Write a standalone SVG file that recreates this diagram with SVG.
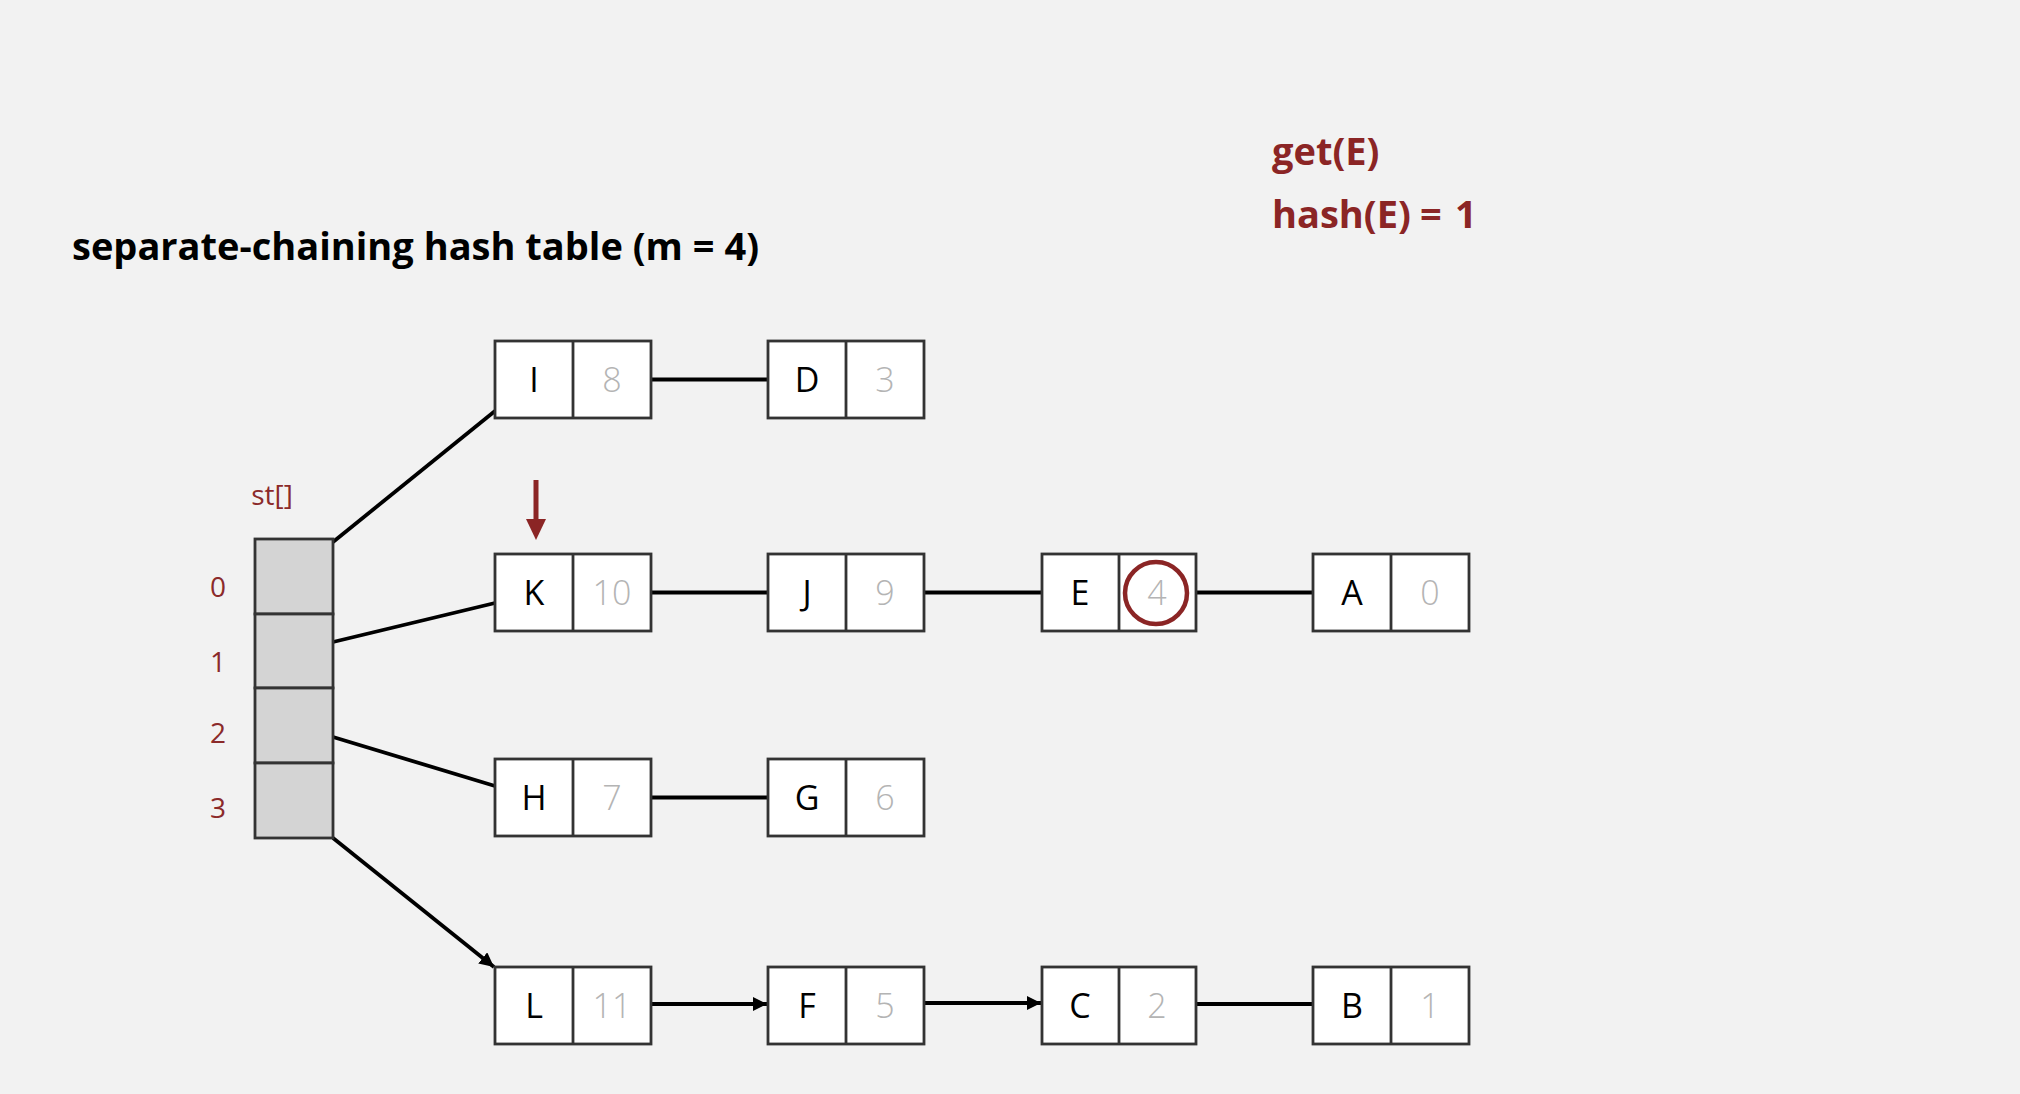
<svg xmlns="http://www.w3.org/2000/svg" width="2020" height="1094" viewBox="0 0 2020 1094">
<style>
.bg{fill:#f2f2f2}
.box{fill:#ffffff;stroke:#333333;stroke-width:2.8}
.div{stroke:#333333;stroke-width:2.8}
.key{font-family:"Open Sans","Noto Sans",sans-serif;font-size:34px;fill:#000000;text-anchor:middle}
.val{font-family:"Open Sans","Noto Sans",sans-serif;font-size:34px;font-weight:300;fill:#b4b4b4;text-anchor:middle}
.edge{stroke:#000000;stroke-width:3.8;fill:none}
.cell{fill:#d4d4d4;stroke:#333333;stroke-width:2.8}
.idx{font-family:"Open Sans","Noto Sans",sans-serif;font-size:28px;fill:#8b2a2a;text-anchor:middle}
.head{font-family:"Open Sans","Noto Sans",sans-serif;font-size:38px;font-weight:bold}
</style>
<defs>
<marker id="arr" viewBox="0 0 10 10" refX="10" refY="5" markerWidth="3.8" markerHeight="3.8" orient="auto" markerUnits="strokeWidth">
<path d="M0,0 L10,5 L0,10 z" fill="#000000"/>
</marker>
</defs>
<rect class="bg" x="0" y="0" width="2020" height="1094"/>
<text class="head" x="72" y="260" fill="#000000">separate-chaining hash table (m = 4)</text>
<text class="head" x="1272" y="165" fill="#8b2525">get(E)</text>
<text class="head" y="228" fill="#8b2525"><tspan x="1272">hash(E)</tspan><tspan x="1420">=</tspan><tspan x="1455">1</tspan></text>

<g id="connectors">
<line class="edge" x1="333" y1="542" x2="495" y2="411"/>
<line class="edge" x1="333" y1="642" x2="495" y2="603"/>
<line class="edge" x1="333" y1="737" x2="495" y2="786"/>
<line class="edge" x1="333" y1="838" x2="494" y2="967" marker-end="url(#arr)"/>
<line class="edge" x1="651" y1="379.5" x2="768" y2="379.5"/>
<line class="edge" x1="651" y1="592.5" x2="768" y2="592.5"/>
<line class="edge" x1="924" y1="592.5" x2="1042" y2="592.5"/>
<line class="edge" x1="1196" y1="592.5" x2="1313" y2="592.5"/>
<line class="edge" x1="651" y1="797.5" x2="768" y2="797.5"/>
<line class="edge" x1="651" y1="1004" x2="767" y2="1004" marker-end="url(#arr)"/>
<line class="edge" x1="924" y1="1003" x2="1041" y2="1003" marker-end="url(#arr)"/>
<line class="edge" x1="1196" y1="1004" x2="1313" y2="1004"/>
</g>

<g id="st">
<text class="idx" x="272" y="505">st[]</text>
<rect class="cell" x="255" y="539" width="78" height="75"/>
<rect class="cell" x="255" y="614" width="78" height="74"/>
<rect class="cell" x="255" y="688" width="78" height="75"/>
<rect class="cell" x="255" y="763" width="78" height="75"/>
<text class="idx" x="218" y="597">0</text>
<text class="idx" x="218" y="672">1</text>
<text class="idx" x="218" y="743">2</text>
<text class="idx" x="218" y="818">3</text>
</g>

<g id="node-I8"><rect class="box" x="495" y="341" width="156" height="77"/><line class="div" x1="573" y1="341" x2="573" y2="418"/><text class="key" x="534" y="392">I</text><text class="val" x="612" y="392">8</text></g>
<g id="node-D3"><rect class="box" x="768" y="341" width="156" height="77"/><line class="div" x1="846" y1="341" x2="846" y2="418"/><text class="key" x="807" y="392">D</text><text class="val" x="885" y="392">3</text></g>

<g id="node-K10"><rect class="box" x="495" y="554" width="156" height="77"/><line class="div" x1="573" y1="554" x2="573" y2="631"/><text class="key" x="534" y="605">K</text><text class="val" x="612" y="605">10</text></g>
<g id="node-J9"><rect class="box" x="768" y="554" width="156" height="77"/><line class="div" x1="846" y1="554" x2="846" y2="631"/><text class="key" x="807" y="605">J</text><text class="val" x="885" y="605">9</text></g>
<g id="node-E4"><rect class="box" x="1042" y="554" width="154" height="77"/><line class="div" x1="1119" y1="554" x2="1119" y2="631"/><text class="key" x="1080" y="605">E</text><text class="val" x="1157" y="605">4</text><circle cx="1156" cy="593" r="31" fill="none" stroke="#8b2525" stroke-width="4.5"/></g>
<g id="node-A0"><rect class="box" x="1313" y="554" width="156" height="77"/><line class="div" x1="1391" y1="554" x2="1391" y2="631"/><text class="key" x="1352" y="605">A</text><text class="val" x="1430" y="605">0</text></g>

<g id="node-H7"><rect class="box" x="495" y="759" width="156" height="77"/><line class="div" x1="573" y1="759" x2="573" y2="836"/><text class="key" x="534" y="810">H</text><text class="val" x="612" y="810">7</text></g>
<g id="node-G6"><rect class="box" x="768" y="759" width="156" height="77"/><line class="div" x1="846" y1="759" x2="846" y2="836"/><text class="key" x="807" y="810">G</text><text class="val" x="885" y="810">6</text></g>

<g id="node-L11"><rect class="box" x="495" y="967" width="156" height="77"/><line class="div" x1="573" y1="967" x2="573" y2="1044"/><text class="key" x="534" y="1018">L</text><text class="val" x="612" y="1018">11</text></g>
<g id="node-F5"><rect class="box" x="768" y="967" width="156" height="77"/><line class="div" x1="846" y1="967" x2="846" y2="1044"/><text class="key" x="807" y="1018">F</text><text class="val" x="885" y="1018">5</text></g>
<g id="node-C2"><rect class="box" x="1042" y="967" width="154" height="77"/><line class="div" x1="1119" y1="967" x2="1119" y2="1044"/><text class="key" x="1080" y="1018">C</text><text class="val" x="1157" y="1018">2</text></g>
<g id="node-B1"><rect class="box" x="1313" y="967" width="156" height="77"/><line class="div" x1="1391" y1="967" x2="1391" y2="1044"/><text class="key" x="1352" y="1018">B</text><text class="val" x="1430" y="1018">1</text></g>

<g id="pointer">
<line x1="536" y1="480" x2="536" y2="522" stroke="#8b2525" stroke-width="5"/>
<path d="M526,519 L546,519 L536,540 z" fill="#8b2525"/>
</g>
</svg>
